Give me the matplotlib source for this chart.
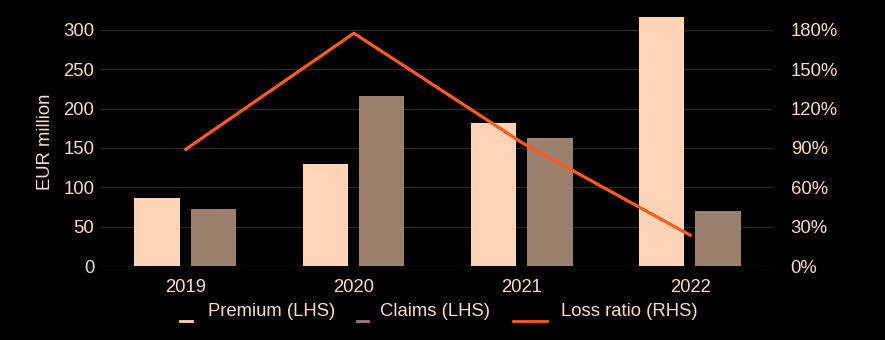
import matplotlib.pyplot as plt
from matplotlib.lines import Line2D
import numpy as np

plt.rcParams['font.family'] = ['Liberation Sans', 'DejaVu Sans']

years = ['2019', '2020', '2021', '2022']
premium = [86, 130, 182, 316]
claims = [72, 216, 163, 70]
loss_ratio = [0.89, 1.775, 0.94, 0.235]

c_premium = '#FFD4B6'
c_claims = '#9C806E'
c_line = '#FF5A1E'
c_text = '#FFDCC2'
c_grid = '#2B2624'
fs = 13.3

fig = plt.figure(figsize=(8.85, 3.4), dpi=100, facecolor='black')
ax = fig.add_axes([0.113, 0.2176, 0.76, 0.7314], facecolor='black')

x = np.arange(len(years))
w = 0.27
ax.bar(x - 0.17, premium, w, color=c_premium, zorder=2)
ax.bar(x + 0.165, claims, w, color=c_claims, zorder=2)

ax.set_xlim(-0.51, 3.49)
ax.set_ylim(0, 316)
ax.set_yticks(range(0, 301, 50))
ax.set_xticks(x)
ax.set_xticklabels(years)
ax.grid(axis='y', color=c_grid, linewidth=1, zorder=0)
ax.set_ylabel('EUR million', color=c_text, fontsize=fs, labelpad=7)
ax.tick_params(colors=c_text, labelsize=fs, length=0)
ax.tick_params(axis='x', pad=9)
ax.tick_params(axis='y', pad=4)
for s in ax.spines.values():
    s.set_visible(False)

ax2 = ax.twinx()
ax2.plot(x, loss_ratio, color=c_line, linewidth=2.3, zorder=3)
ax2.set_ylim(0, 1.8 * 316 / 300)
ax2.set_yticks(np.arange(0, 1.81, 0.3))
ax2.set_yticklabels([f'{int(round(v * 100))}%' for v in np.arange(0, 1.81, 0.3)])
ax2.tick_params(colors=c_text, labelsize=fs, length=0, pad=13)
for s in ax2.spines.values():
    s.set_visible(False)

# legend row drawn in pixel coordinates
W, H = 885, 340
items = [(180, 192, 208, c_premium, 'Premium (LHS)'),
         (357, 368, 380, c_claims, 'Claims (LHS)'),
         (513, 547, 561, c_line, 'Loss ratio (RHS)')]
for x0, x1, tx, col, label in items:
    fig.add_artist(Line2D([x0 / W, x1 / W], [1 - 321 / H, 1 - 321 / H],
                          color=col, linewidth=2, transform=fig.transFigure))
    fig.text(tx / W, 1 - 311 / H, label, color=c_text, fontsize=fs,
             va='center', ha='left')

fig.savefig('out.png', dpi=100, facecolor='black')
